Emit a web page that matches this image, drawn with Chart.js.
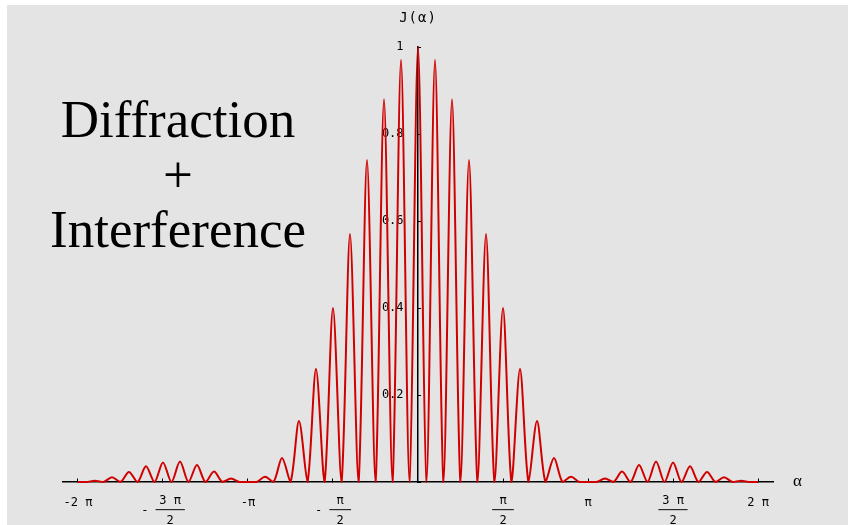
<!DOCTYPE html>
<html>
<head>
<meta charset="utf-8">
<script src="https://cdn.jsdelivr.net/npm/chart.js"></script>
<style>
  body { margin: 0; background: #fff; }
  #wrap { position: relative; width: 848px; height: 525px; overflow: hidden; }
  #bg { position: absolute; left: 7px; top: 5px; right: 0; bottom: 0; background: #e4e4e4; }
  #c { position: absolute; left: 0; top: 0; }
  .caption {
    position: absolute; left: 0; top: 92px; width: 356px;
    text-align: center; font-family: "Liberation Serif", serif;
    font-size: 53px; line-height: 55px; color: #000;
  }
  #ylab {
    position: absolute; left: 366px; top: 9px; width: 104px; text-align: center;
    font-family: "DejaVu Sans Mono", monospace; font-size: 14px; line-height: 16px;
    letter-spacing: 1px;
  }
  #xlab {
    position: absolute; left: 793px; top: 471px;
    font-family: "Liberation Serif", serif; font-size: 17px; line-height: 20px;
  }
</style>
</head>
<body>
<div id="wrap">
  <div id="bg"></div>
  <canvas id="c" width="848" height="525"></canvas>
  <div class="caption">Diffraction<br>+<br>Interference</div>
  <div id="ylab">J(α)</div>
  <div id="xlab">α</div>
</div>
<script>
// fringe positions, in units of pi
const fringeAlpha = [
  -2.0, -1.9, -1.8, -1.7, -1.6, -1.5, -1.4, -1.3, -1.2, -1.1,
  -1.0, -0.9, -0.8, -0.7, -0.6, -0.5, -0.4, -0.3, -0.2, -0.1,
  0,
  0.1, 0.2, 0.3, 0.4, 0.5, 0.6, 0.7, 0.8, 0.9, 1.0,
  1.1, 1.2, 1.3, 1.4, 1.5, 1.6, 1.7, 1.8, 1.9, 2.0
];

// height of each fringe
const fringeHeight = [
  0, 0.003, 0.011, 0.023, 0.036, 0.045, 0.047, 0.039, 0.024, 0.008,
  0, 0.012, 0.055, 0.14, 0.26, 0.40, 0.57, 0.74, 0.88, 0.97,
  1.0,
  0.97, 0.88, 0.74, 0.57, 0.40, 0.26, 0.14, 0.055, 0.012, 0,
  0.008, 0.024, 0.039, 0.047, 0.045, 0.036, 0.023, 0.011, 0.003, 0
];

// curve drops to zero between neighbouring fringes
const troughHeight = 0;

// x tick positions (units of pi) and labels
const xTickAlpha = [-2, -1.5, -1, -0.5, 0.5, 1, 1.5, 2];
const xTickLabels = [
  "-2 π",
  ["  3 π", "- ────", "  2"],
  "-π",
  ["  π", "- ───", "  2"],
  ["π", "───", "2"],
  "π",
  ["3 π", "────", "2"],
  "2 π"
];

const yTickStep = 0.2;

// build the points
const points = [];
fringeAlpha.forEach((a, i) => {
  points.push({ x: a * Math.PI, y: fringeHeight[i] });
  if (i < fringeAlpha.length - 1) {
    const mid = (a + fringeAlpha[i + 1]) / 2;
    points.push({ x: mid * Math.PI, y: troughHeight });
  }
});

const monoFont = "DejaVu Sans Mono";

new Chart(document.getElementById("c"), {
  type: "line",
  data: {
    datasets: [{
      data: points,
      borderColor: "#d00000",
      borderWidth: 2,
      borderJoinStyle: "round",
      pointRadius: 0,
      tension: 0.3,
      clip: false
    }]
  },
  options: {
    responsive: false,
    animation: false,
    layout: { padding: { left: 63, right: 75, top: 47, bottom: 43 } },
    plugins: { legend: { display: false }, tooltip: { enabled: false } },
    scales: {
      x: {
        type: "linear",
        position: { y: 0 },
        min: -2.088 * Math.PI,
        max: 2.088 * Math.PI,
        afterBuildTicks: (scale) => {
          scale.ticks = xTickAlpha.map(v => ({ value: v * Math.PI }));
        },
        border: { color: "#000", width: 1.5 },
        // negative length so the marks point up into the plot
        grid: { drawOnChartArea: false, drawTicks: true, tickLength: -4, color: "#000" },
        ticks: {
          autoSkip: false,
          maxRotation: 0,
          padding: 18,
          color: "#000",
          callback: (value, index) => xTickLabels[index],
          font: (ctx) => ({
            family: monoFont,
            size: 12,
            lineHeight: Array.isArray(xTickLabels[ctx.index]) ? "10px" : "14px"
          })
        }
      },
      y: {
        type: "linear",
        position: { x: 0 },
        min: 0,
        max: 1,
        border: { color: "#000", width: 1.5 },
        grid: { drawOnChartArea: false, drawTicks: true, tickLength: -4, color: "#000" },
        ticks: {
          stepSize: yTickStep,
          color: "#000",
          font: { family: monoFont, size: 12 },
          // trailing spaces keep the labels clear of the axis
          callback: (v) => v === 0 ? "" : (Math.abs(v - 1) < 1e-9 ? "1  " : v.toFixed(1) + "  ")
        }
      }
    }
  }
});
</script>
</body>
</html>
